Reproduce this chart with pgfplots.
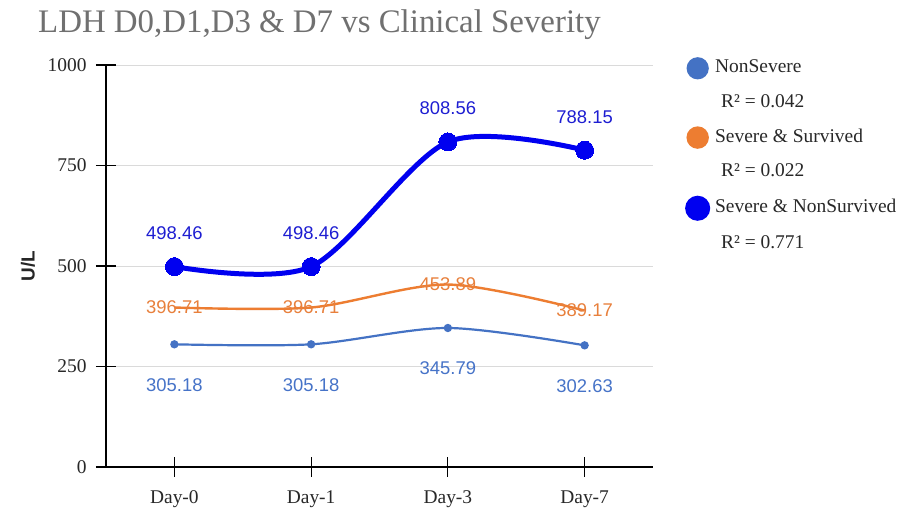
\documentclass[border=0pt]{standalone}
\usepackage{pgfplots}
\pgfplotsset{compat=1.18}
\usepackage{fontspec}
\setmainfont{Liberation Serif}
\newfontfamily\lab{Liberation Sans}
\definecolor{cNS}{RGB}{68,114,196}
\definecolor{cSS}{RGB}{237,125,49}
\definecolor{cSN}{RGB}{0,0,240}
\definecolor{lNS}{RGB}{70,115,200}
\definecolor{lSS}{RGB}{232,128,60}
\definecolor{lSN}{RGB}{30,30,210}
\definecolor{titlegray}{RGB}{112,112,112}
\definecolor{txt}{RGB}{40,40,40}
\definecolor{gridc}{RGB}{218,218,218}

\pgfplotstableread{
x y l
0 305.18 305.18
1 305.18 305.18
2 345.79 345.79
3 302.63 302.63
}\nonsevere
\pgfplotstableread{
x y l
0 396.71 396.71
1 396.71 396.71
2 453.89 453.89
3 389.17 389.17
}\survived
\pgfplotstableread{
x y l
0 498.46 498.46
1 498.46 498.46
2 808.56 808.56
3 788.15 788.15
}\nonsurvived

\begin{document}
\begin{tikzpicture}
\fill[white] (0bp,0bp) rectangle (917bp,510bp);
\node[anchor=base west, text=titlegray, font=\fontsize{33}{33}\selectfont, inner sep=0] at (38bp,477bp) {LDH D0,D1,D3 \& D7 vs Clinical Severity};
\begin{axis}[
  at={(106bp,43bp)}, anchor=south west,
  scale only axis, width=547bp, height=402bp,
  xmin=-0.5, xmax=3.5, ymin=0, ymax=1000,
  axis lines=left, axis line style={-, black, line width=1.2bp},
  xtick={0,1,2,3}, xticklabels={Day-0,Day-1,Day-3,Day-7},
  ytick={0,250,500,750,1000},
  /pgf/number format/1000 sep={},
  tick align=center, major tick length=20bp,
  tick style={black, line width=1.1bp},
  ymajorgrids, grid style={gridc, line width=0.9bp},
  /pgf/number format/assume math mode=true,
  ticklabel style={font=\fontsize{19.5}{19.5}\selectfont, text=txt},
  yticklabel style={xshift=-6bp},
  xticklabel style={yshift=-10bp},
  ylabel={U/L},
  every axis y label/.style={at={(axis description cs:-0.1426,0.5)}, rotate=90, anchor=center, font=\lab\bfseries\fontsize{19}{19}\selectfont, text=black!85},
  clip=false,
  legend style={at={(1,1)}, anchor=north west, xshift=29bp, yshift=10bp, draw=none, fill=none,
    font=\fontsize{19.5}{19.5}\selectfont, text=txt, row sep=13bp,
    nodes={text height=13bp, text depth=4bp},
    /tikz/every odd column/.append style={column sep=3bp}},
  legend cell align=left,
]
\addplot[cNS, line width=2.2bp, smooth, mark=*, mark size=3bp, mark options={fill=cNS, draw=cNS},
  nodes near coords, point meta=explicit symbolic,
  every node near coord/.append style={anchor=base, yshift=-47bp, text=lNS, font=\lab\fontsize{18.5}{18.5}\selectfont},
  legend image code/.code={\fill[cNS] (10bp,0bp) circle (10bp);}]
  table[x=x, y=y, meta=l] {\nonsevere};
\addlegendentry{NonSevere}
\addlegendimage{legend image code/.code={}}
\addlegendentry{\hspace{6bp}R² = 0.042}
\addplot[cSS, line width=2.4bp, smooth, mark=none,
  nodes near coords, point meta=explicit symbolic,
  every node near coord/.append style={anchor=center, text=lSS, font=\lab\fontsize{18.5}{18.5}\selectfont},
  legend image code/.code={\fill[cSS] (10bp,0bp) circle (10bp);}]
  table[x=x, y=y, meta=l] {\survived};
\addlegendentry{Severe \& Survived}
\addlegendimage{legend image code/.code={}}
\addlegendentry{\hspace{6bp}R² = 0.022}
\addplot[cSN, line width=5bp, smooth, mark=*, mark size=9bp, mark options={fill=cSN, draw=cSN, line width=0pt},
  nodes near coords, point meta=explicit symbolic,
  every node near coord/.append style={anchor=base, yshift=27bp, text=lSN, font=\lab\fontsize{18.5}{18.5}\selectfont},
  legend image code/.code={\fill[cSN] (10bp,0bp) circle (10bp);}]
  table[x=x, y=y, meta=l] {\nonsurvived};
\addlegendentry{Severe \& NonSurvived}
\addlegendimage{legend image code/.code={}}
\addlegendentry{\hspace{6bp}R² = 0.771}
\end{axis}
\end{tikzpicture}
\end{document}
